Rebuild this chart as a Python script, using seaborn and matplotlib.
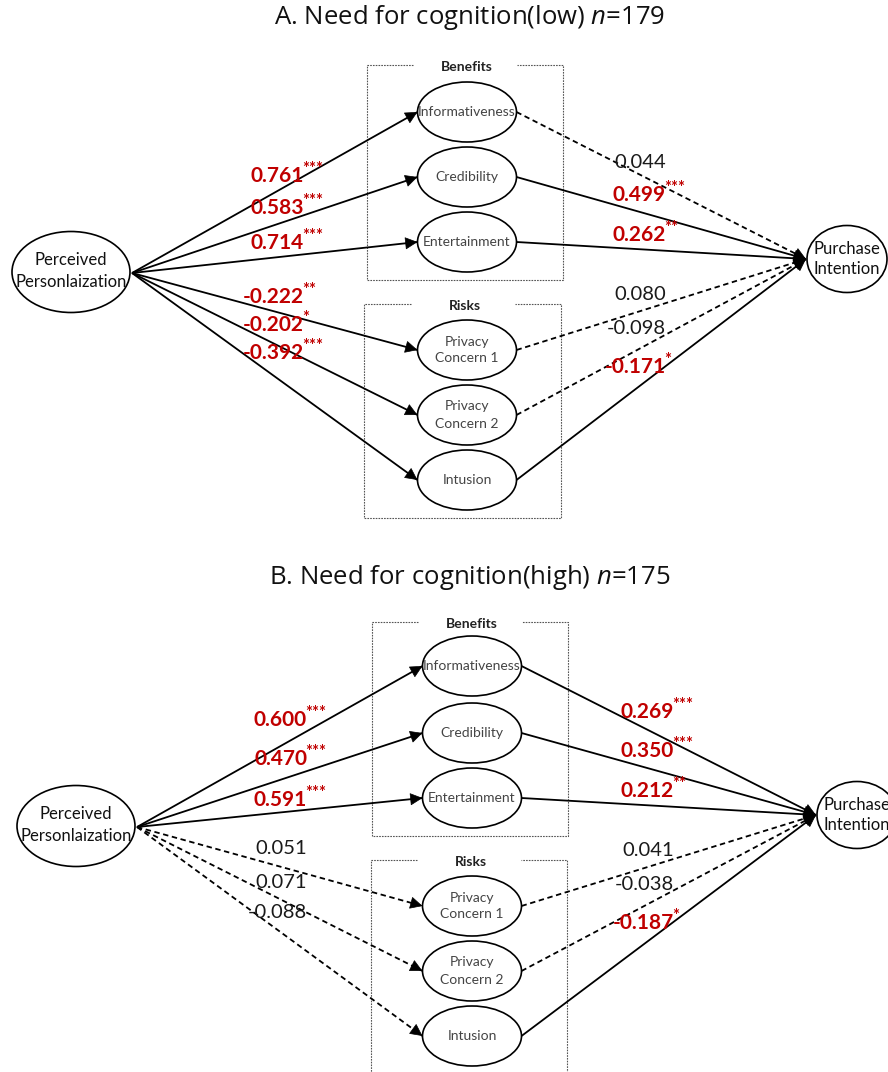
import numpy as np
import matplotlib
matplotlib.use("Agg")
import matplotlib.pyplot as plt
from matplotlib.patches import Ellipse
import seaborn as sns

# path coefficients
mediators = ['Informativeness', 'Credibility', 'Entertainment',
             'Privacy\nConcern 1', 'Privacy\nConcern 2', 'Intusion']
groups = ['A. Need for cognition(low) $n$=179', 'B. Need for cognition(high) $n$=175']

a_low = [0.761, 0.583, 0.714, -0.222, -0.202, -0.392]
a_low_sig = ['***', '***', '***', '**', '*', '***']
b_low = [0.044, 0.499, 0.262, 0.080, -0.098, -0.171]
b_low_sig = ['', '***', '**', '', '', '*']

a_high = [0.600, 0.470, 0.591, 0.051, 0.071, -0.088]
a_high_sig = ['***', '***', '***', '', '', '']
b_high = [0.269, 0.350, 0.212, 0.041, -0.038, -0.187]
b_high_sig = ['***', '***', '**', '', '', '*']

sns.set_theme(style='white')
plt.rcParams['font.family'] = ['Lato', 'DejaVu Sans']
plt.rcParams['mathtext.fontset'] = 'custom'
plt.rcParams['mathtext.it'] = 'Open Sans:italic'
plt.rcParams['mathtext.rm'] = 'Open Sans'

RED = '#c00000'

# layout of the two panels (pixel coordinates)
panels = [
    dict(title_y=18, pp=(71, 272), med_x=467, med_y=[112, 177, 242, 350, 415, 480],
         pi=(847, 259), ben=(367, 65, 563, 280), risk=(364, 304, 561, 518),
         lx=304, ly=[176, 208, 243, 297, 325, 353],
         rx=666, ry=[162, 195, 235, 295, 328, 367]),
    dict(title_y=578, pp=(76, 826), med_x=472, med_y=[666, 733, 798, 906, 971, 1036],
         pi=(857, 815), ben=(372, 622, 568, 836), risk=(371, 860, 567, 1090),
         lx=307, ly=[720, 759, 800, 848, 882, 912],
         rx=674, ry=[712, 751, 791, 850, 885, 923]),
]
coefs = [(a_low, a_low_sig, b_low, b_low_sig), (a_high, a_high_sig, b_high, b_high_sig)]

PP_W, PP_H = 118, 81
MED_W, MED_H = 99, 60
PI_W, PI_H = 80, 67

fig = plt.figure(figsize=(8.88, 10.72), dpi=100)
ax = fig.add_axes([0, 0, 1, 1])
ax.set_xlim(0, 888)
ax.set_ylim(1072, 0)
ax.axis('off')


def path(start, end, sig):
    ls = '-' if sig else (0, (3, 2))
    ax.plot([start[0], end[0]], [start[1], end[1]], color='black', lw=1.3,
            linestyle=ls, zorder=2, solid_capstyle='butt')
    d = np.array(end) - np.array(start)
    u = d / np.hypot(*d)
    tail = np.array(end) - 11 * u
    ax.annotate('', xy=end, xytext=tail,
                arrowprops=dict(arrowstyle='-|>', mutation_scale=20, color='black',
                                lw=0.5, shrinkA=0, shrinkB=0), zorder=4)


def coef_label(x, y, v, sig):
    col = RED if sig else '#1a1a1a'
    t = ax.text(x, y, f'{v:.3f}', ha='right', va='center',
                fontsize=15 if sig else 14.5,
                color=col, fontweight='bold' if sig else 'normal', zorder=5)
    if sig:
        ax.annotate(sig, xy=(1, 0.85), xycoords=t, xytext=(-1, 0),
                    textcoords='offset points', ha='left', va='center',
                    fontsize=12, color=RED, fontweight='bold', zorder=5)


def dotted_box(box, label):
    x0, y0, x1, y1 = box
    xc = (x0 + x1) / 2
    kw = dict(color='#555555', lw=0.8, linestyle=(0, (1.5, 1)), zorder=1)
    ax.plot([xc - 52, x0, x0, x1, x1, xc + 52], [y0, y0, y1, y1, y0, y0], **kw)
    ax.text(xc + 2, y0 + 2, label, ha='center', va='center', fontsize=10,
            fontweight='bold', color='#222222')


for p, (a, a_sig, b, b_sig), title in zip(panels, coefs, groups):
    ax.text(470, p['title_y'], title, ha='center', va='center', fontsize=18.5,
            family='Open Sans', color='#111111')
    dotted_box(p['ben'], 'Benefits')
    dotted_box(p['risk'], 'Risks')

    ppx, ppy = p['pp']
    ax.add_patch(Ellipse(p['pp'], PP_W, PP_H, fc='white', ec='black', lw=1.2, zorder=3))
    ax.text(ppx, ppy - 1, 'Perceived\nPersonlaization', ha='center', va='center',
            fontsize=12, linespacing=1.4, color='#111111', zorder=5)
    pix, piy = p['pi']
    ax.add_patch(Ellipse(p['pi'], PI_W, PI_H, fc='white', ec='black', lw=1.2, zorder=3))
    ax.text(pix, piy, 'Purchase\nIntention', ha='center', va='center',
            fontsize=12, linespacing=1.3, color='#111111', zorder=5)

    start = (ppx + PP_W / 2 + 2, ppy + 1)
    end_pi = (pix - PI_W / 2 - 1, piy)
    for i, name in enumerate(mediators):
        my = p['med_y'][i]
        mx = p['med_x']
        ax.add_patch(Ellipse((mx, my), MED_W, MED_H, fc='white', ec='black',
                             lw=1.2, zorder=3))
        ax.text(mx, my, name, ha='center', va='center', fontsize=10,
                linespacing=1.5, color='#444444', zorder=5)
        path(start, (mx - MED_W / 2, my), a_sig[i])
        path((mx + MED_W / 2, my), end_pi, b_sig[i])
        coef_label(p['lx'], p['ly'][i], a[i], a_sig[i])
        coef_label(p['rx'], p['ry'][i], b[i], b_sig[i])

fig.savefig('out.png', dpi=100)
